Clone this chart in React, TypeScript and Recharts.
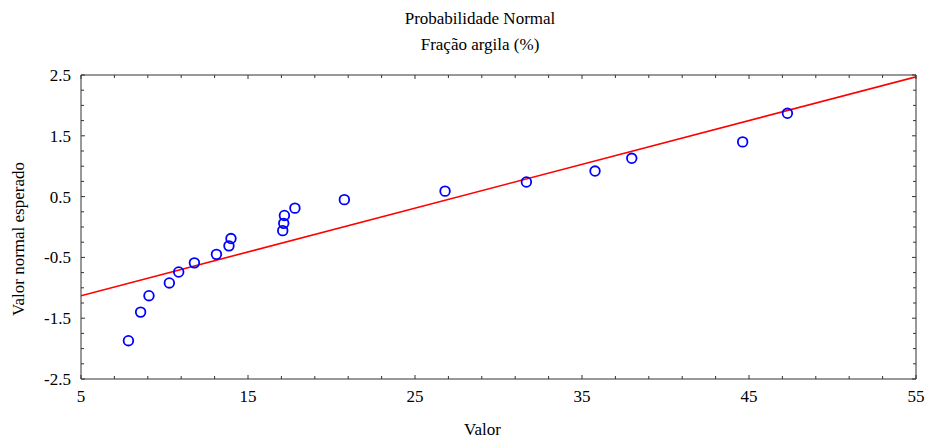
import React from "react";
import {
  ScatterChart,
  Scatter,
  XAxis,
  YAxis,
  ReferenceLine,
  Label,
} from "recharts";

// observed clay fraction (%), sorted
const valor = [
  7.84, 8.57, 9.07, 10.29, 10.85, 11.79, 13.11, 13.86, 13.98, 17.08,
  17.14, 17.18, 17.81, 20.77, 26.8, 31.67, 35.78, 37.98, 44.62, 47.3,
];
// expected normal scores
const esperado = [
  -1.87, -1.4, -1.13, -0.92, -0.74, -0.59, -0.45, -0.31, -0.19, -0.06,
  0.06, 0.19, 0.31, 0.45, 0.59, 0.74, 0.92, 1.13, 1.4, 1.87,
];
// fitted reference line end points
const fitX = [5, 55];
const fitY = [-1.13, 2.47];

const xMajor = [5, 15, 25, 35, 45, 55];
const yMajor = [-2.5, -1.5, -0.5, 0.5, 1.5, 2.5];
const xTicks = Array.from({ length: 26 }, (_, i) => 5 + i * 2);
const yTicks = Array.from({ length: 21 }, (_, i) => -2.5 + i * 0.25);

const data = valor.map((v, i) => ({ x: v, y: esperado[i] }));

const FONT = "'Liberation Serif', 'Times New Roman', serif";
const FS = 17;
const AXIS = "#333";

const W = 928;
const H = 442;
const M = { top: 74, right: 11, bottom: 62, left: 80 };

type TickProps = {
  x: number;
  y: number;
  payload: { value: number };
  side: "bottom" | "top" | "left" | "right";
};

function Tick({ x, y, payload, side }: TickProps) {
  const v = payload.value;
  const major =
    side === "bottom" || side === "top"
      ? xMajor.includes(v)
      : yMajor.some((m) => Math.abs(m - v) < 1e-6);
  const len = major ? 4 : 3;
  if (side === "bottom") {
    return (
      <g>
        <line x1={x} x2={x} y1={y} y2={y - len} stroke={AXIS} />
        {major && (
          <text x={x} y={y + 23} textAnchor="middle" fontSize={FS} fontFamily={FONT} fill="#000">
            {v}
          </text>
        )}
      </g>
    );
  }
  if (side === "top") {
    return <line x1={x} x2={x} y1={y} y2={y + len} stroke={AXIS} />;
  }
  if (side === "left") {
    return (
      <g>
        <line x1={x} x2={x + len} y1={y} y2={y} stroke={AXIS} />
        {major && (
          <text x={x - 10} y={y + 6} textAnchor="end" fontSize={FS} fontFamily={FONT} fill="#000">
            {v.toFixed(1)}
          </text>
        )}
      </g>
    );
  }
  return <line x1={x} x2={x - len} y1={y} y2={y} stroke={AXIS} />;
}

const OpenCircle = (props: any) => (
  <circle cx={props.cx} cy={props.cy} r={4.8} fill="none" stroke="#0000ff" strokeWidth={1.8} />
);

const renderBottom = (p: any) => <Tick {...p} side="bottom" />;
const renderTop = (p: any) => <Tick {...p} side="top" />;
const renderLeft = (p: any) => <Tick {...p} side="left" />;
const renderRight = (p: any) => <Tick {...p} side="right" />;

const titleStyle: React.CSSProperties = {
  position: "absolute",
  left: 16,
  width: W,
  textAlign: "center",
  fontFamily: FONT,
  fontSize: FS,
  lineHeight: "17px",
};

export default function App() {
  return (
    <div style={{ position: "absolute", left: 0, top: 0, width: W, height: H, background: "#fff" }}>
      <div style={{ ...titleStyle, top: 10 }}>Probabilidade Normal</div>
      <div style={{ ...titleStyle, top: 36 }}>Fração argila (%)</div>
      <ScatterChart width={W} height={H} margin={M}>
        <XAxis
          xAxisId="b"
          type="number"
          dataKey="x"
          domain={[5, 55]}
          ticks={xTicks}
          interval={0}
          height={1}
          tickSize={0}
          tickMargin={0}
          stroke={AXIS}
          tick={renderBottom}
          allowDataOverflow
        >
          <Label
            content={({ viewBox }: any) => (
              <text
                x={viewBox.x + viewBox.width / 2 - 16}
                y={viewBox.y + 56}
                textAnchor="middle"
                fontSize={FS}
                fontFamily={FONT}
              >
                Valor
              </text>
            )}
          />
        </XAxis>
        <XAxis
          xAxisId="t"
          orientation="top"
          type="number"
          dataKey="x"
          domain={[5, 55]}
          ticks={xTicks}
          interval={0}
          height={1}
          tickSize={0}
          tickMargin={0}
          stroke={AXIS}
          tick={renderTop}
          allowDataOverflow
        />
        <YAxis
          yAxisId="l"
          type="number"
          dataKey="y"
          domain={[-2.5, 2.5]}
          ticks={yTicks}
          interval={0}
          width={1}
          tickSize={0}
          tickMargin={0}
          stroke={AXIS}
          tick={renderLeft}
          allowDataOverflow
        >
          <Label
            content={({ viewBox }: any) => {
              const cx = 24;
              const cy = viewBox.y + viewBox.height / 2 + 12;
              return (
                <text
                  x={cx}
                  y={cy}
                  transform={`rotate(-90, ${cx}, ${cy})`}
                  textAnchor="middle"
                  fontSize={FS}
                  fontFamily={FONT}
                >
                  Valor normal esperado
                </text>
              );
            }}
          />
        </YAxis>
        <YAxis
          yAxisId="r"
          orientation="right"
          type="number"
          dataKey="y"
          domain={[-2.5, 2.5]}
          ticks={yTicks}
          interval={0}
          width={1}
          tickSize={0}
          tickMargin={0}
          stroke={AXIS}
          tick={renderRight}
          allowDataOverflow
        />
        <ReferenceLine
          xAxisId="b"
          yAxisId="l"
          segment={[
            { x: fitX[0], y: fitY[0] },
            { x: fitX[1], y: fitY[1] },
          ]}
          stroke="#ff0000"
          strokeWidth={1.6}
          ifOverflow="hidden"
        />
        <Scatter
          xAxisId="b"
          yAxisId="l"
          data={data}
          shape={OpenCircle}
          isAnimationActive={false}
        />
      </ScatterChart>
    </div>
  );
}
